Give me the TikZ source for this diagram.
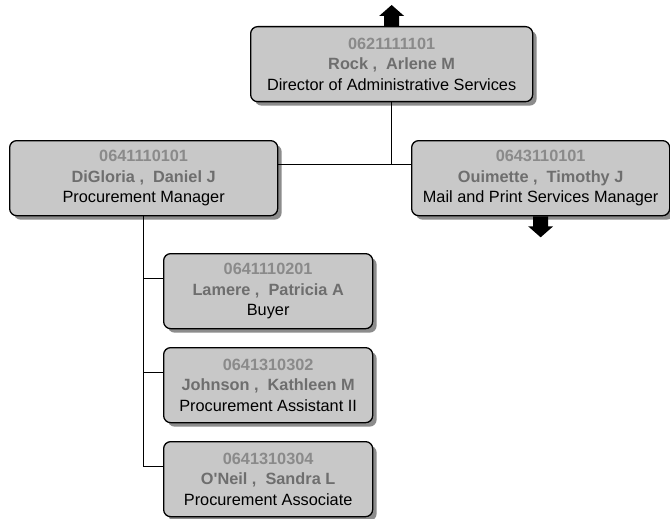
\documentclass[tikz,border=0pt]{standalone}
\usepackage{fontspec}
\setmainfont{Liberation Sans}
\usetikzlibrary{shadows}

\definecolor{boxfill}{HTML}{C8C8C8}
\definecolor{idgrey}{HTML}{8A8A8A}
\definecolor{namegrey}{HTML}{6E6E6E}
\definecolor{shadowgrey}{HTML}{8C8C8C}

\newcommand{\person}[3]{%
  {\color{idgrey}\bfseries #1}\\
  {\color{namegrey}\bfseries #2}\\
  #3}

\tikzset{
  staffbox/.style={
    draw=black, line width=1.3pt, fill=boxfill,
    rounded corners=7pt, anchor=north west,
    minimum height=75pt, align=center, inner sep=0pt,
    font=\fontsize{16.3}{20.5}\selectfont,
    drop shadow={shadow xshift=4pt, shadow yshift=-4pt,
                 fill=shadowgrey, opacity=1}
  },
  link/.style={draw=black, line width=0.8pt},
  blockarrow/.style={fill=black}
}

\begin{document}
\begin{tikzpicture}[x=1pt, y=-1pt]
  \useasboundingbox (0,0) rectangle (670,519);

  % staff boxes
  \node[staffbox, minimum width=282pt] (top) at (250,26)
    {\person{0621111101}{Rock ,~~Arlene M}{Director of Administrative Services}};
  \node[staffbox, minimum width=268pt] (left) at (9,140)
    {\person{0641110101}{DiGloria ,~~Daniel J}{Procurement Manager}};
  \node[staffbox, minimum width=258pt] (right) at (411,140)
    {\person{0643110101}{Ouimette ,~~Timothy J}{Mail and Print Services Manager}};
  \node[staffbox, minimum width=209pt] (c1) at (163,253)
    {\person{0641110201}{Lamere ,~~Patricia A}{Buyer}};
  \node[staffbox, minimum width=209pt] (c2) at (163,347)
    {\person{0641310302}{Johnson ,~~Kathleen M}{Procurement Assistant II}};
  \node[staffbox, minimum width=209pt] (c3) at (163,441)
    {\person{0641310304}{O\textquotesingle Neil ,~~Sandra L}{Procurement Associate}};

  % connector levels
  \coordinate (hy) at (0,164);
  \coordinate (s1) at ([yshift=12.5pt]c1.west);
  \coordinate (s2) at ([yshift=12.5pt]c2.west);
  \coordinate (s3) at ([yshift=12.5pt]c3.west);

  % connectors
  \draw[link] (top.south) -- (top.south |- hy);
  \draw[link] (left.east |- hy) -- (right.west |- hy);
  \draw[link] (left.south) |- (s3);
  \draw[link] (left.south |- s1) -- (s1);
  \draw[link] (left.south |- s2) -- (s2);

  % block arrows: more levels above and below
  \fill[blockarrow] (top.north) ++(-7.5pt,0pt) -- ++(0pt,10pt) -- ++(-5pt,0pt)
    -- ++(12.5pt,11pt) -- ++(12.5pt,-11pt) -- ++(-5pt,0pt) -- ++(0pt,-10pt) -- cycle;
  \fill[blockarrow] (right.south) ++(-7.5pt,0pt) -- ++(0pt,-10pt) -- ++(-5pt,0pt)
    -- ++(12.5pt,-11pt) -- ++(12.5pt,11pt) -- ++(-5pt,0pt) -- ++(0pt,10pt) -- cycle;
\end{tikzpicture}
\end{document}
